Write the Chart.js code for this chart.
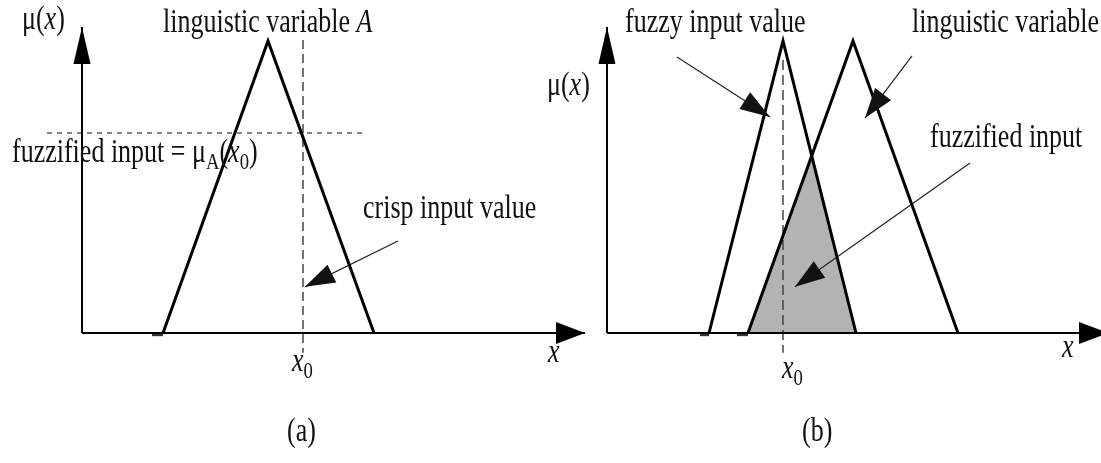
<!DOCTYPE html>
<html>
<head>
<meta charset="utf-8">
<script src="https://cdn.jsdelivr.net/npm/chart.js@4.4.1/dist/chart.umd.min.js"></script>
<style>
  html, body { margin: 0; padding: 0; background: #fff; }
  canvas { display: block; }
</style>
</head>
<body>
<canvas id="fuzzyChart" width="1101" height="463"></canvas>
<script>
// horizontal position (shared by both panels) and membership degree mu
// panel (a): linguistic variable A and a crisp input x0
var triA_x = [163, 268, 374];
var triA_mu = [0, 1, 0];
var footA_x = [152, 163];
var x0A = 303;
var muAx0 = 0.685;
var levelA_x = [47, 365];

// panel (b): fuzzy input value, linguistic variable, and their overlap
var fuzzyIn_x = [709, 783, 856];
var fuzzyIn_mu = [0, 1, 0];
var ling_x = [748, 853, 958];
var ling_mu = [0, 1, 0];
var overlap_x = [748, 812, 856];
var overlap_mu = [0, 0.61, 0];
var footB1_x = [700, 709];
var footB2_x = [737, 748];
var x0B = 783;

// axes: [origin, end] along x, top of the mu axis
var axisA_x = [82, 585];
var axisB_x = [607, 1108];
var axisTop = 1.048;
var dashBottom = -0.068;

// pointer arrows: [from x, from mu, to x, to mu]
var arrows = [
  [398, 0.315, 305, 0.158],  // crisp input value
  [677, 0.945, 770, 0.740],  // fuzzy input value
  [912, 0.949, 865, 0.736],  // linguistic variable
  [970, 0.582, 795, 0.158]   // fuzzified input
];

function pts(xs, ys) {
  return xs.map(function (x, i) { return { x: x, y: Array.isArray(ys) ? ys[i] : ys }; });
}

function line(data, opts) {
  var ds = {
    data: data,
    showLine: true,
    borderColor: "#000",
    borderWidth: 3,
    pointRadius: 0,
    fill: false,
    tension: 0,
    order: 1
  };
  for (var k in opts) ds[k] = opts[k];
  return ds;
}

var datasets = [
  // shaded fuzzified input (drawn behind the lines)
  line(pts(overlap_x, overlap_mu), { borderWidth: 0, borderColor: "rgba(0,0,0,0)", backgroundColor: "#b3b3b3", fill: "origin", order: 10 }),

  // axes
  line(pts(axisA_x, 0), { borderWidth: 2 }),
  line([{ x: axisA_x[0], y: 0 }, { x: axisA_x[0], y: axisTop }], { borderWidth: 2 }),
  line(pts(axisB_x, 0), { borderWidth: 2 }),
  line([{ x: axisB_x[0], y: 0 }, { x: axisB_x[0], y: axisTop }], { borderWidth: 2 }),

  // dashed guides
  line([{ x: x0A, y: 1.003 }, { x: x0A, y: dashBottom }], { borderWidth: 1.5, borderColor: "#444", borderDash: [9, 5], order: 5 }),
  line(pts(levelA_x, muAx0), { borderWidth: 1.2, borderColor: "#333", borderDash: [5, 5], order: 5 }),
  line([{ x: x0B, y: 0.935 }, { x: x0B, y: dashBottom }], { borderWidth: 1.5, borderColor: "#444", borderDash: [10, 5], order: 5 }),

  // membership functions
  line(pts(triA_x, triA_mu), {}),
  line(pts(fuzzyIn_x, fuzzyIn_mu), {}),
  line(pts(ling_x, ling_mu), {}),

  // little foot marks on the x axis
  line(pts(footA_x, -0.004), { borderWidth: 4, borderColor: "#333" }),
  line(pts(footB1_x, -0.004), { borderWidth: 4, borderColor: "#333" }),
  line(pts(footB2_x, -0.004), { borderWidth: 4, borderColor: "#333" })
];

// arrow shafts
arrows.forEach(function (a) {
  datasets.push(line([{ x: a[0], y: a[1] }, { x: a[2], y: a[3] }], { borderWidth: 1.2, borderColor: "#222" }));
});

function arrowHead(ctx, fx, fy, tx, ty, len, half) {
  var ang = Math.atan2(ty - fy, tx - fx);
  var bx = tx - Math.cos(ang) * len, by = ty - Math.sin(ang) * len;
  var nx = -Math.sin(ang) * half, ny = Math.cos(ang) * half;
  ctx.beginPath();
  ctx.moveTo(tx, ty);
  ctx.lineTo(bx + nx, by + ny);
  ctx.lineTo(bx - nx, by - ny);
  ctx.closePath();
  ctx.fill();
}

// text drawn as runs so italics and subscripts can be mixed
function drawRuns(ctx, runs, x, y, size) {
  ctx.save();
  ctx.translate(x, y);
  ctx.scale(1, 1.28);
  var cx = 0;
  runs.forEach(function (r) {
    var s = r.sub ? size * 0.72 : size;
    ctx.font = (r.i ? "italic " : "") + s + "px 'Liberation Serif', 'Times New Roman', serif";
    ctx.fillText(r.t, cx, r.sub ? size * 0.22 : 0);
    cx += ctx.measureText(r.t).width;
  });
  ctx.restore();
}

var labels = [
  { x: 22, y: 29, runs: [{ t: "μ(" }, { t: "x", i: true }, { t: ")" }] },
  { x: 163, y: 32, runs: [{ t: "linguistic variable " }, { t: "A", i: true }] },
  { x: 12, y: 162, runs: [{ t: "fuzzified input = μ" }, { t: "A", sub: true }, { t: "(" }, { t: "x", i: true }, { t: "0", sub: true }, { t: ")" }] },
  { x: 363, y: 218, runs: [{ t: "crisp input value" }] },
  { x: 292, y: 371, runs: [{ t: "x", i: true }, { t: "0", sub: true }] },
  { x: 548, y: 362, runs: [{ t: "x", i: true }] },
  { x: 287, y: 441, runs: [{ t: "(a)" }] },
  { x: 547, y: 95, runs: [{ t: "μ(" }, { t: "x", i: true }, { t: ")" }] },
  { x: 625, y: 32, runs: [{ t: "fuzzy input value" }] },
  { x: 912, y: 32, runs: [{ t: "linguistic variable" }] },
  { x: 930, y: 147, runs: [{ t: "fuzzified input" }] },
  { x: 782, y: 378, runs: [{ t: "x", i: true }, { t: "0", sub: true }] },
  { x: 1062, y: 357, runs: [{ t: "x", i: true }] },
  { x: 802, y: 441, runs: [{ t: "(b)" }] }
];

var decorations = {
  id: "decorations",
  afterDatasetsDraw: function (chart) {
    var ctx = chart.ctx;
    var xs = chart.scales.x, ys = chart.scales.y;
    ctx.save();
    ctx.fillStyle = "#000";
    // axis arrowheads
    [axisA_x, axisB_x].forEach(function (ax) {
      var ox = xs.getPixelForValue(ax[0]);
      var oy = ys.getPixelForValue(0);
      arrowHead(ctx, ox, oy, ox, ys.getPixelForValue(axisTop), 37, 8.5);
      arrowHead(ctx, ox, oy, xs.getPixelForValue(ax[1]), oy, 29, 11);
    });
    // pointer arrowheads
    ctx.fillStyle = "#111";
    arrows.forEach(function (a) {
      arrowHead(ctx, xs.getPixelForValue(a[0]), ys.getPixelForValue(a[1]),
        xs.getPixelForValue(a[2]), ys.getPixelForValue(a[3]), 30, 10);
    });
    // text
    ctx.fillStyle = "#111";
    ctx.textBaseline = "alphabetic";
    labels.forEach(function (l) { drawRuns(ctx, l.runs, l.x, l.y, 26); });
    ctx.restore();
  }
};

var chartArea = document.getElementById("fuzzyChart").getContext("2d");
var fuzzyChart = new Chart(chartArea, {
  type: "scatter",
  data: { datasets: datasets },
  options: {
    responsive: false,
    animation: false,
    events: [],
    layout: { padding: 0 },
    plugins: { legend: { display: false }, tooltip: { enabled: false } },
    scales: {
      x: { type: "linear", display: false, min: 0, max: 1101 },
      y: { type: "linear", display: false, min: -0.4452, max: 1.1404 }
    }
  },
  plugins: [decorations]
});
</script>
</body>
</html>
